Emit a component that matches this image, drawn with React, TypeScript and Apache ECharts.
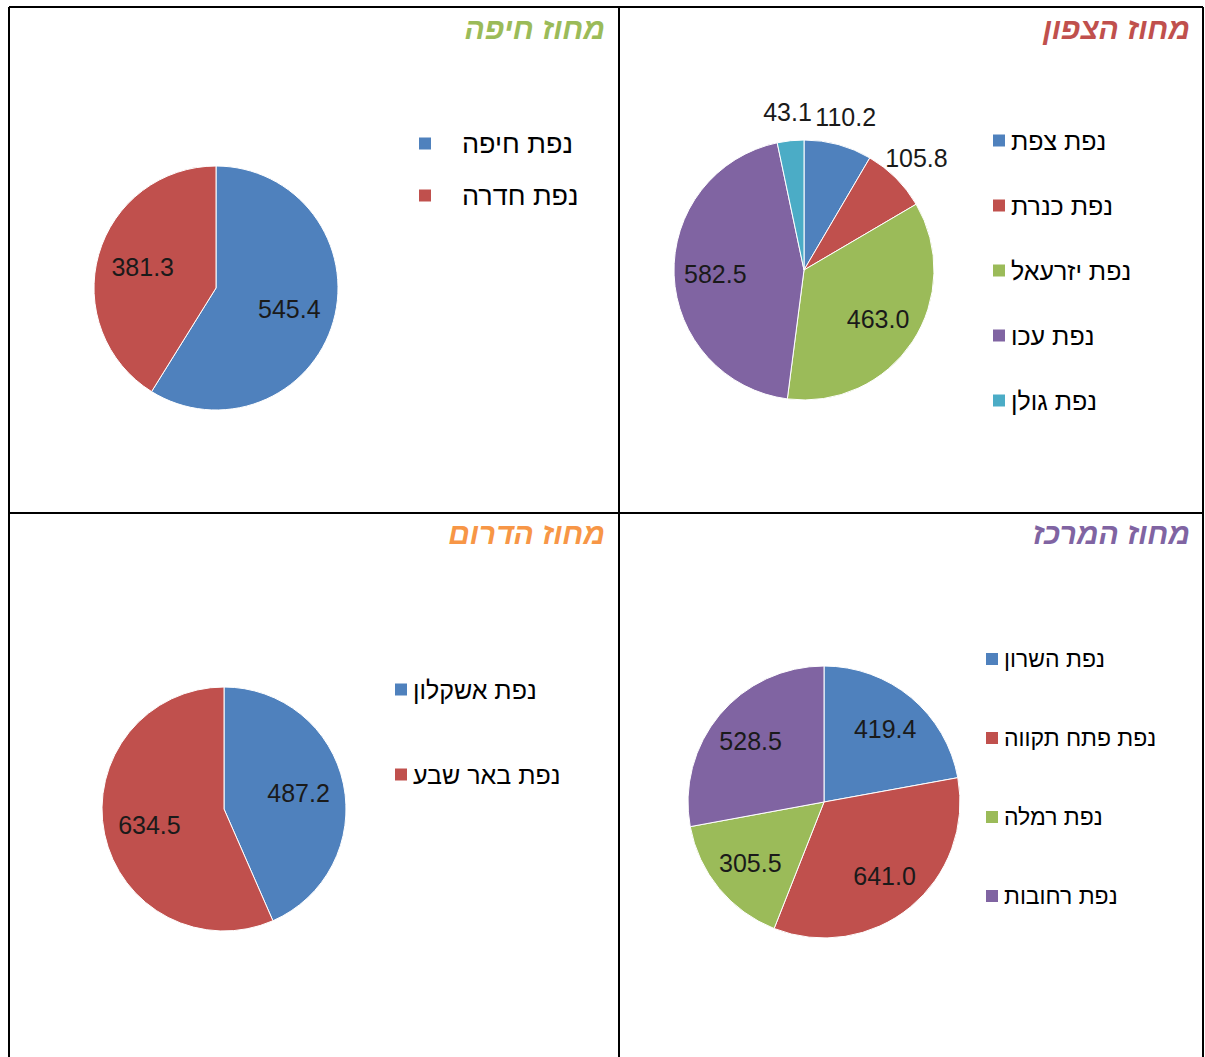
import React, { useEffect, useRef } from "react";
import * as echarts from "echarts";

// ---- data ----
const haifaNames = ["נפת חיפה", "נפת חדרה"];
const haifaValues = [545.4, 381.3];

const northNames = ["נפת צפת", "נפת כנרת", "נפת יזרעאל", "נפת עכו", "נפת גולן"];
const northValues = [110.2, 105.8, 463.0, 582.5, 43.1];

const southNames = ["נפת אשקלון", "נפת באר שבע"];
const southValues = [487.2, 634.5];

const centerNames = ["נפת השרון", "נפת פתח תקווה", "נפת רמלה", "נפת רחובות"];
const centerValues = [419.4, 641.0, 305.5, 528.5];

const titles = ["מחוז חיפה", "מחוז הצפון", "מחוז הדרום", "מחוז המרכז"];

// ---- styles ----
const palette = ["#4F81BD", "#C0504D", "#9BBB59", "#8064A2", "#4BACC6"];
const titleColors = ["#9BBB59", "#C0504D", "#F79646", "#8064A2"];
const NUM_FONT = "Liberation Sans";
const HEB_FONT = "Liberation Sans";

type Panel = {
  names: string[];
  values: number[];
  title: string;
  titleColor: string;
  titleX: number;
  titleY: number;
  center: [number, number];
  r: number;
  labelR: number;
  outerR: number;
  legendLeft: number;
  legendTop: number;
  itemGap: number;
  textPad: number;
  legendFont: number;
};

const panels: Panel[] = [
  {
    names: haifaNames, values: haifaValues, title: titles[0], titleColor: titleColors[0],
    titleX: 605, titleY: 28, center: [216, 288], r: 122, labelR: 0.6, outerR: 1.2,
    legendLeft: 412, legendTop: 125, itemGap: 25, textPad: 25, legendFont: 27,
  },
  {
    names: northNames, values: northValues, title: titles[1], titleColor: titleColors[1],
    titleX: 1190, titleY: 28, center: [804, 270], r: 130, labelR: 0.66, outerR: 1.2,
    legendLeft: 986, legendTop: 123, itemGap: 40, textPad: 0, legendFont: 25,
  },
  {
    names: southNames, values: southValues, title: titles[2], titleColor: titleColors[2],
    titleX: 605, titleY: 533, center: [224, 809], r: 122, labelR: 0.6, outerR: 1.2,
    legendLeft: 388, legendTop: 672, itemGap: 60, textPad: 0, legendFont: 25,
  },
  {
    names: centerNames, values: centerValues, title: titles[3], titleColor: titleColors[3],
    titleX: 1190, titleY: 533, center: [824, 802], r: 136, labelR: 0.68, outerR: 1.2,
    legendLeft: 979, legendTop: 642, itemGap: 55, textPad: 0, legendFont: 23,
  },
];

function buildOption() {
  const series: any[] = [];
  const legend: any[] = [];
  const graphic: any[] = [];

  panels.forEach((p) => {
    const total = p.values.reduce((a, b) => a + b, 0);
    const isSmall = p.values.map((v) => v / total < 0.1);
    // main pie
    series.push({
      type: "pie",
      center: p.center,
      radius: [0, p.r],
      startAngle: 90,
      clockwise: true,
      silent: true,
      label: { show: false },
      labelLine: { show: false },
      emphasis: { disabled: true },
      itemStyle: { borderColor: "#ffffff", borderWidth: 1 },
      data: p.names.map((n, i) => ({
        name: n,
        value: p.values[i],
        itemStyle: { color: palette[i] },
      })),
    });
    const labelSeries = (radiusFactor: number, showFn: (i: number) => boolean) => ({
      type: "pie",
      center: p.center,
      radius: [0, p.r * radiusFactor * 2],
      startAngle: 90,
      clockwise: true,
      silent: true,
      z: 5,
      emphasis: { disabled: true },
      itemStyle: { color: "rgba(0,0,0,0)", borderWidth: 0 },
      labelLine: { show: false },
      label: {
        show: true,
        position: "inside",
        formatter: (d: any) => Number(d.value).toFixed(1),
        color: "#1a1a1a",
        fontFamily: NUM_FONT,
        fontSize: 25,
      },
      data: p.names.map((n, i) => ({
        name: n,
        value: p.values[i],
        label: { show: showFn(i) },
      })),
    });
    series.push(labelSeries(p.labelR, (i) => !isSmall[i]));
    if (isSmall.some((s) => s)) series.push(labelSeries(p.outerR, (i) => isSmall[i]));

    legend.push({
      orient: "vertical",
      left: p.legendLeft,
      top: p.legendTop,
      itemWidth: 14,
      itemHeight: 14,
      itemGap: p.itemGap,
      icon: "rect",
      selectedMode: false,
      data: p.names,
      textStyle: {
        fontFamily: HEB_FONT,
        fontSize: p.legendFont,
        lineHeight: 24,
        color: "#000000",
        padding: [0, 0, 0, p.textPad],
      },
    });

    graphic.push({
      type: "text",
      x: p.titleX,
      y: p.titleY,
      style: {
        text: p.title,
        fill: p.titleColor,
        fontFamily: HEB_FONT,
        fontSize: 30,
        fontWeight: "bold",
        fontStyle: "italic",
        textAlign: "right",
        textVerticalAlign: "middle",
      },
    });
  });

  const border = { stroke: "#000000", lineWidth: 2 };
  const lines = [
    [9, 7, 1203, 7],
    [9, 513, 1203, 513],
    [9, 7, 9, 1060],
    [619, 7, 619, 1060],
    [1203, 7, 1203, 1060],
  ];
  lines.forEach(([x1, y1, x2, y2]) =>
    graphic.push({ type: "line", shape: { x1, y1, x2, y2 }, style: border, z: 10 })
  );

  return {
    animation: false,
    backgroundColor: "#ffffff",
    legend,
    series,
    graphic,
  };
}

export default function App() {
  const ref = useRef<HTMLDivElement>(null);
  useEffect(() => {
    if (!ref.current) return;
    const chart = echarts.init(ref.current, undefined, { renderer: "svg" });
    chart.setOption(buildOption() as any);
    return () => chart.dispose();
  }, []);
  return (
    <div
      ref={ref}
      style={{ position: "absolute", left: 0, top: 0, width: 1205, height: 1057 }}
    />
  );
}
